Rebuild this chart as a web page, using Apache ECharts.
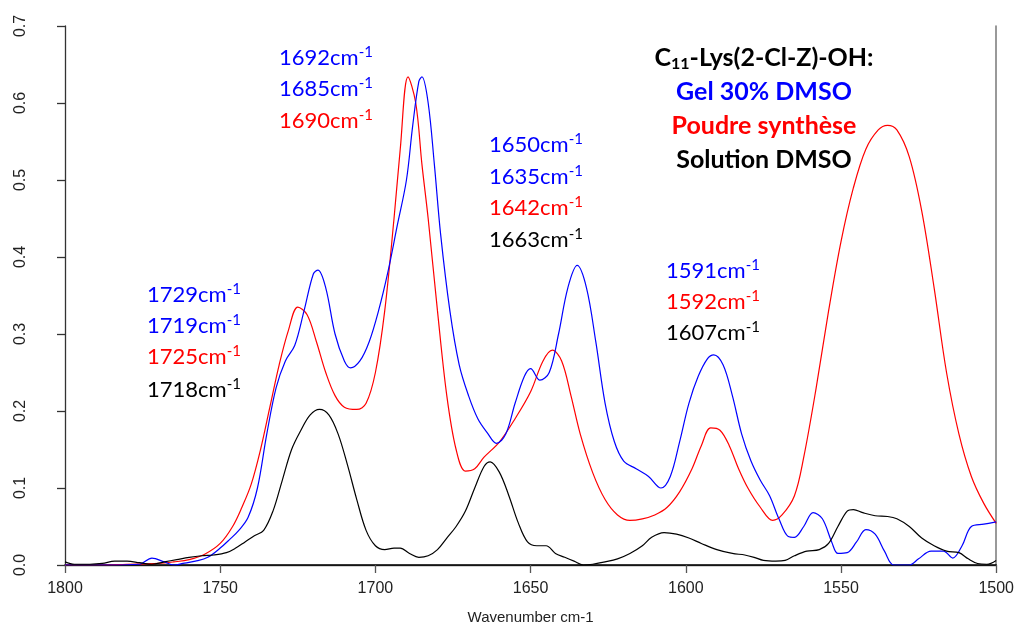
<!DOCTYPE html>
<html>
<head>
<meta charset="utf-8">
<script src="https://cdn.jsdelivr.net/npm/echarts@6/dist/echarts.min.js"></script>
<style>
  html, body { margin: 0; padding: 0; background: #fff; }
  #chart { width: 1017px; height: 630px; }
</style>
</head>
<body>
<div id="chart"></div>
<script>
// FTIR amide region of C11-Lys(2-Cl-Z)-OH: wavenumber (cm-1) vs absorbance
const xTicks = [1800, 1750, 1700, 1650, 1600, 1550, 1500];
const yTicks = [0.0, 0.1, 0.2, 0.3, 0.4, 0.5, 0.6, 0.7];

// Gel 30% DMSO
const gelWave = [1800,1785,1776,1772,1768,1765,1762,1758,1754,1750,1747,1744,1741,1738,1735,1732,1729,1726,1723,1720,1718.5,1716,1713,1710,1708,1705,1702,1699,1696,1693,1690,1688,1686,1685,1683,1681,1679,1676,1673,1670,1667,1664,1661,1658,1655,1652,1650,1647,1644,1641,1638,1635,1632,1629,1626,1623,1620,1616,1612,1608,1605,1602,1599,1596,1593,1591,1588,1585,1582,1579,1576,1573,1570,1567,1565,1562,1559,1556,1553,1551,1548,1545,1542,1539,1536,1533,1528,1525,1521,1517,1514,1511,1508,1504,1500];
const gelAbs  = [0,0,0.001,0.009,0.004,0,0.002,0.005,0.01,0.022,0.033,0.045,0.062,0.1,0.17,0.23,0.265,0.285,0.33,0.378,0.383,0.36,0.3,0.265,0.256,0.265,0.29,0.33,0.38,0.44,0.5,0.57,0.628,0.634,0.6,0.52,0.43,0.33,0.26,0.22,0.19,0.172,0.158,0.17,0.21,0.245,0.255,0.24,0.25,0.3,0.36,0.389,0.36,0.29,0.21,0.16,0.135,0.125,0.115,0.1,0.115,0.16,0.21,0.245,0.268,0.273,0.26,0.22,0.17,0.135,0.11,0.09,0.06,0.037,0.036,0.05,0.068,0.06,0.03,0.015,0.016,0.03,0.046,0.04,0.018,0,0,0.008,0.018,0.018,0.009,0.025,0.05,0.053,0.056];

// Poudre synthese
const poudreWave = [1800,1790,1780,1770,1765,1760,1755,1750,1746,1743,1740,1737,1734,1731,1728,1725,1722,1719,1716,1713,1710,1706,1703,1700,1697,1694,1692,1689.5,1687,1685,1683,1680,1677,1674,1671,1668,1665,1660,1655,1650,1646,1643,1640,1637,1634,1630,1626,1622,1618,1614,1610,1606,1602,1598,1595,1592,1589,1586,1583,1580,1576,1572,1569,1565,1562,1558,1554,1550,1546,1542,1538,1535,1532,1528,1524,1520,1516,1512,1508,1504,1500];
const poudreAbs  = [0,0,0.001,0.002,0.004,0.007,0.014,0.028,0.05,0.075,0.105,0.15,0.205,0.26,0.305,0.335,0.325,0.29,0.25,0.22,0.205,0.202,0.21,0.25,0.33,0.45,0.54,0.634,0.6,0.52,0.45,0.33,0.22,0.15,0.122,0.125,0.14,0.16,0.19,0.225,0.265,0.279,0.265,0.22,0.17,0.12,0.085,0.065,0.058,0.06,0.065,0.075,0.095,0.125,0.155,0.178,0.175,0.155,0.125,0.1,0.075,0.058,0.065,0.09,0.14,0.23,0.33,0.42,0.49,0.54,0.565,0.571,0.565,0.53,0.46,0.36,0.25,0.17,0.115,0.08,0.054];

// Solution DMSO
const solWave = [1800,1797,1792,1788,1784,1780,1776,1772,1768,1764,1760,1756,1752,1748,1745,1742,1739,1736,1733,1730,1727,1724,1721,1718,1715,1712,1709,1706,1703,1700,1697,1694,1692,1689,1686,1683,1680,1677,1674,1671,1668,1665,1663,1660,1657,1654,1651,1648,1645,1642,1639,1636,1633,1630,1626,1622,1618,1614,1611,1607,1603,1599,1595,1590,1585,1581,1578,1575,1571,1568,1565,1561,1557,1554,1551,1548,1546,1543,1539,1535,1532,1528,1524,1520,1516,1512,1509,1506,1503,1500];
const solAbs  = [0.004,0.001,0.001,0.002,0.005,0.005,0.003,0.001,0.004,0.007,0.01,0.012,0.013,0.016,0.022,0.03,0.038,0.045,0.07,0.11,0.15,0.175,0.195,0.202,0.195,0.17,0.13,0.085,0.045,0.025,0.02,0.022,0.022,0.015,0.01,0.012,0.02,0.035,0.05,0.07,0.1,0.128,0.134,0.12,0.09,0.055,0.03,0.025,0.025,0.015,0.01,0.005,0,0.001,0.004,0.008,0.015,0.025,0.036,0.042,0.04,0.035,0.028,0.02,0.015,0.013,0.01,0.006,0.005,0.006,0.012,0.018,0.02,0.028,0.05,0.07,0.072,0.068,0.064,0.063,0.06,0.05,0.035,0.025,0.018,0.016,0.008,0.002,0.001,0.006];

// Peak annotations: [wavenumber text, colour, left, centreY]
const peakLabels = [
  ['1692', '#0000ff', 279, 58], ['1685', '#0000ff', 279, 89], ['1690', '#ff0000', 279, 121],
  ['1729', '#0000ff', 147, 295], ['1719', '#0000ff', 147, 326], ['1725', '#ff0000', 147, 357], ['1718', '#000000', 147, 390],
  ['1650', '#0000ff', 489, 145], ['1635', '#0000ff', 489, 177], ['1642', '#ff0000', 489, 208], ['1663', '#000000', 489, 240],
  ['1591', '#0000ff', 666, 271], ['1592', '#ff0000', 666, 302], ['1607', '#000000', 666, 333]
];

const titleLines = [
  ['Gel 30% DMSO', '#0000ff', 92],
  ['Poudre synthèse', '#ff0000', 126],
  ['Solution DMSO', '#000000', 160]
];

function pairs(xs, ys) { return xs.map((x, i) => [x, ys[i]]); }

const labelFont = 'Lato, "Open Sans", sans-serif';
const titleX = 764;

const graphics = peakLabels.map(([num, col, x, y]) => ({
  type: 'text', x: x, y: y,
  style: {
    text: '{n|' + num + 'cm}{s|-1}',
    textAlign: 'left', textVerticalAlign: 'middle',
    rich: {
      n: { fontFamily: labelFont, fontSize: 22, fill: col, lineHeight: 26 },
      s: { fontFamily: labelFont, fontSize: 15, fill: col, padding: [0, 0, 12, 0], lineHeight: 26 }
    },
    fill: col
  }
}));

graphics.push({
  type: 'text', x: titleX, y: 58,
  style: {
    text: '{b|C}{sub|11}{b|-Lys(2-Cl-Z)-OH:}',
    textAlign: 'center', textVerticalAlign: 'middle',
    rich: {
      b: { fontFamily: labelFont, fontWeight: 'bold', fontSize: 25, fill: '#000', lineHeight: 30 },
      sub: { fontFamily: labelFont, fontWeight: 'bold', fontSize: 16, fill: '#000', padding: [12, 0, 0, 0], lineHeight: 30 }
    }
  }
});
titleLines.forEach(([t, col, y]) => {
  graphics.push({
    type: 'text', x: titleX, y: y,
    style: {
      text: t, fontFamily: labelFont, fontWeight: 'bold', fontSize: 25, fill: col,
      textAlign: 'center', textVerticalAlign: 'middle'
    }
  });
});

const chart = echarts.init(document.getElementById('chart'), null, { renderer: 'canvas' });
const tickFont = { fontFamily: '"Liberation Sans", Arial, sans-serif', fontSize: 16, color: '#222' };

function line(name, xs, ys, color) {
  return {
    name, type: 'line', data: pairs(xs, ys), smooth: 0.35, symbol: 'none',
    lineStyle: { color, width: 1.2 }, itemStyle: { color }, z: 3
  };
}

chart.setOption({
  animation: false,
  backgroundColor: '#fff',
  grid: { left: 65, right: 16, top: 26, bottom: 60 },
  xAxis: [{
    type: 'value', min: 1500, max: 1800, interval: 50, inverse: true,
    name: 'Wavenumber cm-1', nameLocation: 'middle', nameGap: 45,
    nameTextStyle: { fontFamily: '"Liberation Sans", Arial, sans-serif', fontSize: 15, color: '#222' },
    axisLine: { show: true, lineStyle: { color: '#555', width: 1.3 } },
    axisTick: { show: true, inside: false, length: 8, lineStyle: { color: '#555', width: 1.3 } },
    axisLabel: Object.assign({ margin: 16, formatter: v => xTicks.includes(v) ? String(v) : '' }, tickFont),
    splitLine: { show: false }
  }, {
    type: 'value', min: 1500, max: 1800, inverse: true, position: 'top',
    axisLine: { show: true, lineStyle: { color: '#000', width: 1.5 } },
    axisTick: { show: false }, axisLabel: { show: false }, splitLine: { show: false }
  }],
  yAxis: [{
    type: 'value', min: 0, max: 0.7, interval: 0.1,
    axisLine: { show: true, lineStyle: { color: '#333', width: 1.3 } },
    axisTick: { show: true, inside: false, length: 8, lineStyle: { color: '#333', width: 1.3 } },
    axisLabel: Object.assign({ rotate: 90, margin: 36, formatter: v => v.toFixed(1) }, tickFont),
    splitLine: { show: false }
  }, {
    type: 'value', min: 0, max: 0.7, position: 'right',
    axisLine: { show: true, lineStyle: { color: '#777', width: 1.5 } },
    axisTick: { show: false }, axisLabel: { show: false }, splitLine: { show: false }
  }],
  series: [
    line('Poudre synthèse', poudreWave, poudreAbs, '#ff0000'),
    line('Gel 30% DMSO', gelWave, gelAbs, '#0000ff'),
    line('Solution DMSO', solWave, solAbs, '#000000')
  ],
  graphic: graphics
});
</script>
</body>
</html>
